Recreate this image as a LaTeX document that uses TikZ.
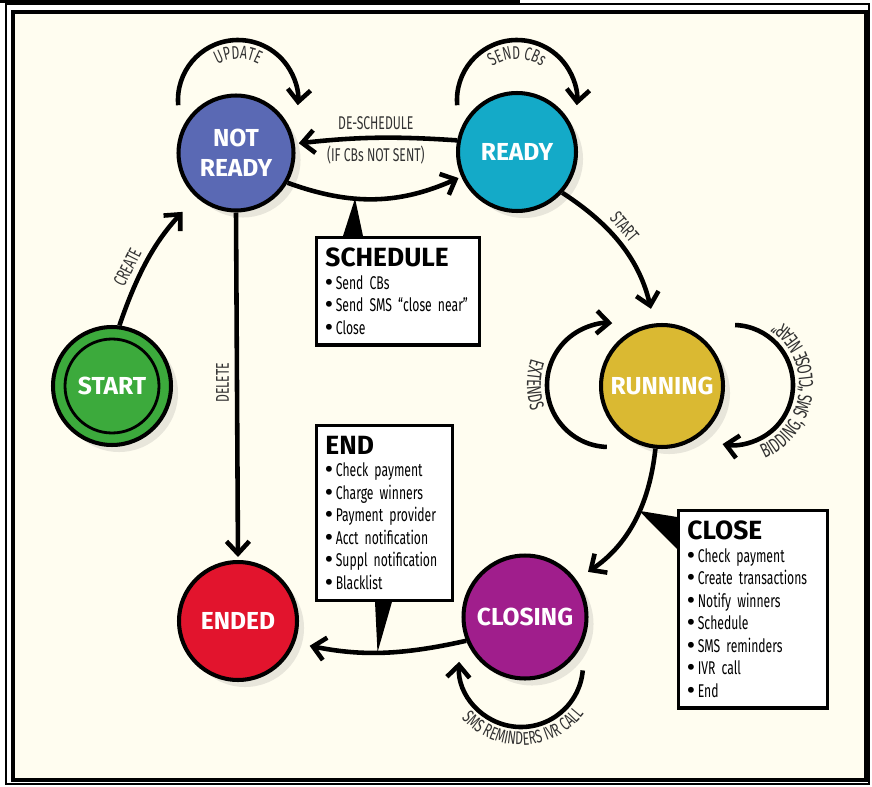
\documentclass[tikz,border=0pt]{standalone}
\usepackage{fontspec}
\setmainfont{Fira Sans}
\newfontfamily\condfont[FakeStretch=0.66]{Fira Sans}
\usetikzlibrary{arrows.meta,shadows,decorations.text,calc}

\definecolor{paper}{HTML}{FFFDF0}
\definecolor{nrblue}{HTML}{5A69B4}
\definecolor{rdcyan}{HTML}{14AAC8}
\definecolor{startgreen}{HTML}{3CAA3C}
\definecolor{rungold}{HTML}{DAB932}
\definecolor{endred}{HTML}{E2142D}
\definecolor{closepurple}{HTML}{A01E8C}

\newcommand{\arcfont}{\condfont\fontsize{10.5}{11}\selectfont}
\newcommand{\bigarcfont}{\condfont\fontsize{11.5}{12}\selectfont}
\newcommand{\headfont}{\normalfont\bfseries\fontsize{15}{16}\selectfont}
\newcommand{\bul}{{\normalfont\bfseries\fontsize{12}{12}\selectfont•}\,}

\begin{document}
\begin{tikzpicture}[x=0.02cm, y=0.02cm,
    stnode/.style={circle, draw=black, line width=2.3pt, inner sep=0pt, align=center,
        text=white, font=\bfseries\fontsize{14}{17}\selectfont,
        drop shadow={shadow xshift=4pt, shadow yshift=-4pt, opacity=.18}},
    flow/.style={line width=2.6pt, -{Straight Barb[length=7pt,width=13pt]}},
    infobox/.style={draw=black, line width=1.9pt, fill=white, anchor=north west, align=left,
        inner xsep=5pt, inner ysep=6pt, font=\condfont\fontsize{10.5}{12.8}\selectfont},
    labtext/.style={font=\arcfont, text=black!80},
    looptext/.style={decorate, decoration={text along path, text align=center,
        text color=black!80, text={|\arcfont|#1}}},
    biglooptext/.style={decorate, decoration={text along path, text align=center,
        text color=black!80, text={|\bigarcfont|#1}}}]
    \useasboundingbox (0,0) rectangle (872,-787);
    % frame
    \fill[white] (0,0) rectangle (872,-787);
    \draw[line width=1pt] (6,-4) rectangle (869,-784);
    \draw[line width=2.2pt, fill=paper] (13,-12) rectangle (866,-780);
    \draw[line width=2pt] (0,-1.5) -- (520,-1.5);

    % states
    \node[stnode, fill=startgreen, minimum size=2.36cm] (start) at (112,-386) {START};
    \draw[line width=1.6pt] (start.center) circle[radius=47];
    \node[stnode, fill=nrblue, minimum size=2.3cm] (notready) at (236,-153) {NOT\\READY};
    \node[stnode, fill=rdcyan, minimum size=2.36cm] (ready) at (517,-152) {READY};
    \node[stnode, fill=rungold, minimum size=2.44cm] (running) at (662,-386) {RUNNING};
    \node[stnode, fill=endred, minimum size=2.36cm] (ended) at (238,-621) {ENDED};
    \node[stnode, fill=closepurple, minimum size=2.46cm] (closing) at (525,-617) {CLOSING};

    % action boxes
    \node[infobox, text width=2.9cm] (sched) at (315,-236)
        {{\headfont SCHEDULE}\\ \bul Send CBs\\ \bul Send SMS “close near”\\ \bul Close};
    \node[infobox, text width=2.36cm] (endbox) at (315,-424)
        {{\headfont END}\\ \bul Check payment\\ \bul Charge winners\\ \bul Payment provider\\
         \bul Acct notification\\ \bul Suppl notification\\ \bul Blacklist};
    \node[infobox, text width=2.62cm] (closebox) at (677,-509)
        {{\headfont CLOSE}\\ \bul Check payment\\ \bul Create transactions\\ \bul Notify winners\\
         \bul Schedule\\ \bul SMS reminders\\ \bul IVR call\\ \bul End};

    % transitions
    \draw[flow, shorten >=0.4cm] (start.83) to[bend left=12]
        node[labtext, sloped, above, pos=.36] {CREATE} (notready.228);
    \draw[flow, shorten >=0.06cm] (notready.south) --
        node[labtext, pos=.49, rotate=90, anchor=south] {DELETE} (ended.north);
    \draw[flow, shorten >=0.08cm] (ready.169) to[bend right=5]
        node[labtext, above] {DE-SCHEDULE} node[labtext, below] {(IF CBs NOT SENT)} (notready.9);
    \draw[flow, shorten >=0.06cm] (notready.-30) to[bend right=22]
        coordinate[pos=.38] (schedtip) (ready.204);
    \draw[flow, shorten >=0.3cm] (ready.-42) to[bend left=22]
        node[labtext, sloped, above, pos=.4] {START} (running.97);
    \draw[flow, shorten >=0.28cm] (running.264) to[bend left=25]
        coordinate[pos=.4] (closetip) (closing.36);
    \draw[flow, shorten >=0.3cm] (closing.202) to[bend left=12]
        coordinate[pos=.52] (endtip) (ended.-21);

    % pointers from the boxes
    \fill ($(sched.north west)+(28,0)$) -- (schedtip) -- ($(sched.north west)+(48,0)$) -- cycle;
    \fill ($(endbox.south west)+(60,0)$) -- (endtip) -- ($(endbox.south west)+(77,0)$) -- cycle;
    \fill ($(closebox.north west)+(0,-8)$) -- (closetip) -- ($(closebox.north west)+(0,-40)$) -- cycle;

    % self loops
    \draw[flow] ($(notready)+(2,53)+(185:60)$) arc[start angle=185, end angle=-5, radius=60];
    \path[looptext=UPDATE] ($(notready)+(2,53)+(160:41)$) arc[start angle=160, end angle=20, radius=41];
    \draw[flow] ($(ready)+(0,52)+(185:60)$) arc[start angle=185, end angle=-5, radius=60];
    \path[looptext=SEND CBs] ($(ready)+(0,52)+(160:41)$) arc[start angle=160, end angle=20, radius=41];
    \draw[flow] ($(running)+(-53,1)+(-92:62)$) arc[start angle=-92, end angle=-273, radius=62];
    \path[biglooptext=EXTENDS] ($(running)+(-53,1)+(130:82)$) arc[start angle=130, end angle=230, radius=82];
    \draw[flow] ($(running)+(71,1)+(88:60)$) arc[start angle=88, end angle=-100, radius=60];
    \path[biglooptext={BIDDING, SMS “CLOSE NEAR”}] ($(running)+(71,1)+(-130:80)$)
        arc[start angle=-130, end angle=118, radius=80];
    \draw[flow] ($(closing)+(-4,-48)+(-5:62)$) arc[start angle=-5, end angle=-183, radius=62];
    \path[looptext=SMS REMINDERS IVR CALL] ($(closing)+(-4,-48)+(-178:80)$)
        arc[start angle=-178, end angle=2, radius=80];
\end{tikzpicture}
\end{document}
